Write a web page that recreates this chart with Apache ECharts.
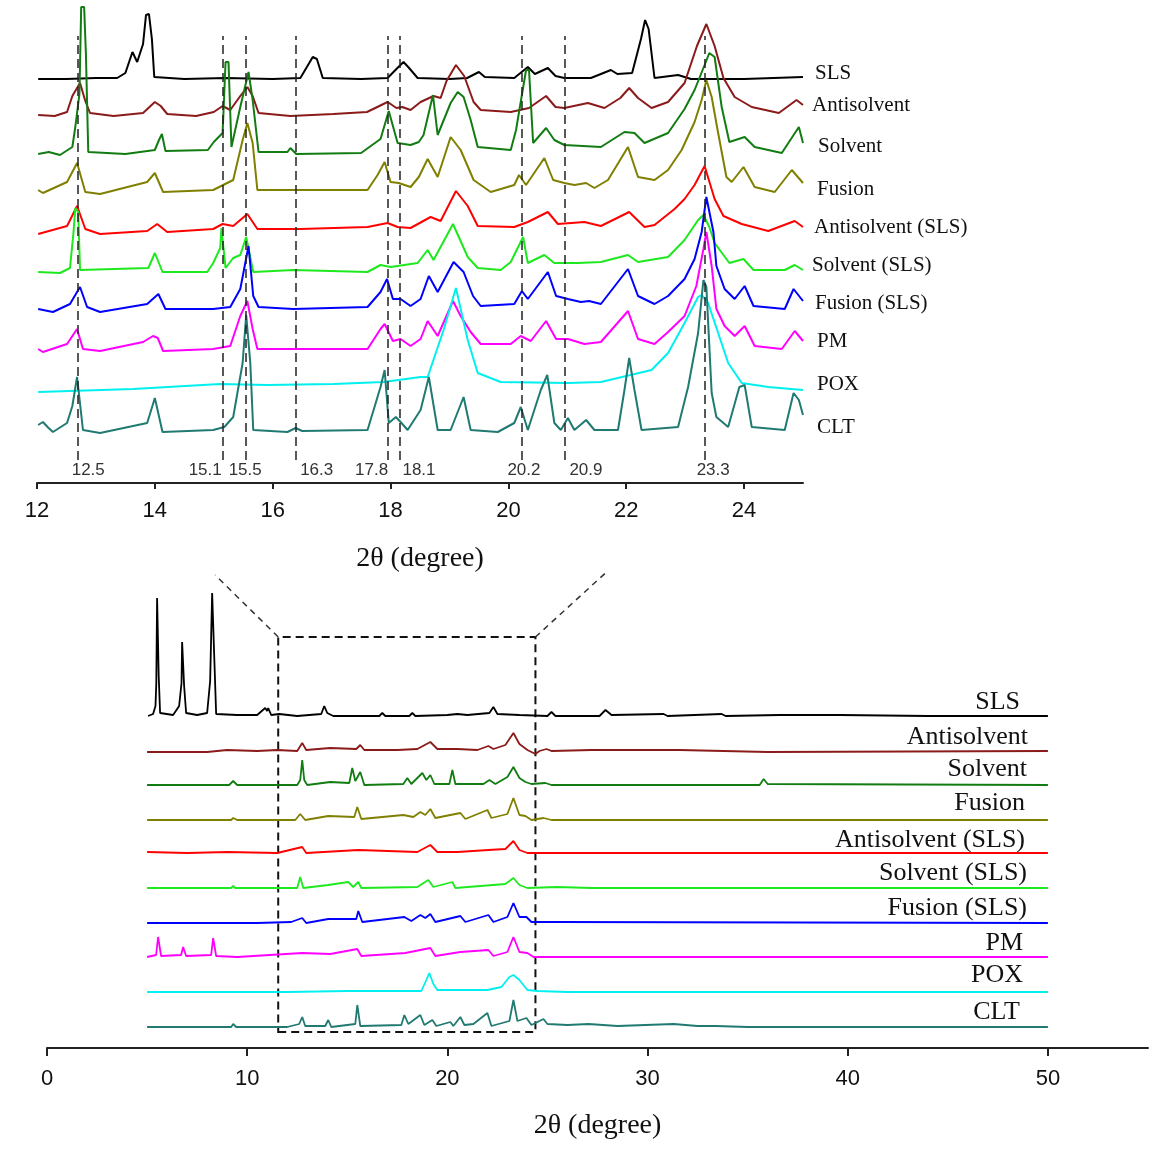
<!DOCTYPE html>
<html>
<head>
<meta charset="utf-8">
<title>XRD patterns</title>
<script src="https://cdn.jsdelivr.net/npm/echarts@6/dist/echarts.min.js"></script>
<style>
html, body { margin: 0; padding: 0; background: #fff; }
#chart { width: 1175px; height: 1160px; }
</style>
</head>
<body>
<div id="chart"></div>
<script>
// sample order, top to bottom
var sampleNames = ['SLS', 'Antisolvent', 'Solvent', 'Fusion', 'Antisolvent (SLS)',
    'Solvent (SLS)', 'Fusion (SLS)', 'PM', 'POX', 'CLT'];

// characteristic peaks marked in the zoomed panel
var peakPositions = [12.7, 15.16, 15.55, 16.39, 17.95, 18.16, 20.23, 20.96, 23.34];
var peakLabels = ['12.5', '15.1', '15.5', '16.3', '17.8', '18.1', '20.2', '20.9', '23.3'];

var zoomTicks = [12, 14, 16, 18, 20, 22, 24];
var fullTicks = [0, 10, 20, 30, 40, 50];
var zoomWindow = [11.55, 24.4];

// ---- zoomed panel, 2theta 12-25, [2theta, intensity] ----
var zoomSLS = [[12.02,0],[12.5,0],[13.0,1],[13.36,1],[13.5,6],[13.62,27],[13.7,17],[13.8,35],[13.85,64],[13.9,65],[13.95,40],[13.99,2],[14.5,0],[15.2,1],[16.0,0],[16.47,1],[16.6,14],[16.68,22],[16.75,20],[16.85,1],[17.5,0],[17.95,1],[18.1,10],[18.22,17],[18.3,12],[18.46,1],[19.0,0],[19.3,1],[19.5,7],[19.6,2],[20.1,1],[20.33,12],[20.45,5],[20.67,11],[20.8,3],[20.95,1],[21.4,1],[21.74,9],[21.85,5],[22.1,6],[22.25,40],[22.32,59],[22.38,50],[22.48,1],[22.88,4],[23.1,0],[24.0,0],[24.5,1],[25.0,2]];
var zoomAntisolvent = [[12.02,1],[12.3,0],[12.51,4],[12.6,20],[12.73,33],[12.82,15],[12.9,3],[13.3,0],[13.8,3],[14.0,14],[14.1,10],[14.21,2],[14.7,0],[15.0,4],[15.15,10],[15.28,6],[15.45,20],[15.57,29],[15.66,20],[15.76,3],[16.3,0],[17.03,2],[17.6,4],[17.95,14],[18.1,8],[18.2,9],[18.34,6],[18.51,14],[18.73,20],[18.85,18],[18.95,35],[19.11,51],[19.25,40],[19.41,14],[19.53,6],[20.04,4],[20.35,8],[20.64,20],[20.8,9],[20.95,8],[21.35,13],[21.63,8],[21.9,18],[22.05,28],[22.2,18],[22.43,8],[22.71,14],[22.99,33],[23.2,70],[23.36,92],[23.5,70],[23.65,38],[23.84,19],[24.13,9],[24.59,3],[24.89,16],[25.0,11]];
var zoomSolvent = [[12.02,0],[12.2,2],[12.39,-1],[12.6,7],[12.65,27],[12.72,60],[12.75,147],[12.8,147],[12.83,100],[12.87,2],[13.5,0],[14.0,4],[14.07,14],[14.12,20],[14.18,3],[14.9,4],[15.0,12],[15.15,21],[15.2,92],[15.25,92],[15.3,7],[15.45,47],[15.59,82],[15.66,54],[15.76,2],[16.25,2],[16.3,6],[16.4,0],[17.5,1],[17.83,15],[17.97,43],[18.12,11],[18.34,9],[18.48,12],[18.56,19],[18.72,59],[18.8,19],[19.02,51],[19.14,62],[19.24,57],[19.36,34],[19.48,7],[20.04,4],[20.13,24],[20.3,84],[20.35,84],[20.42,11],[20.64,26],[20.78,14],[20.95,9],[21.57,7],[21.97,22],[22.14,21],[22.31,11],[22.71,21],[22.99,45],[23.16,64],[23.33,89],[23.41,101],[23.5,97],[23.62,47],[23.75,12],[24.01,17],[24.18,7],[24.64,1],[24.93,27],[25.0,11]];
var zoomFusion = [[12.02,2],[12.1,-1],[12.51,10],[12.68,29],[12.82,0],[13.07,-2],[13.87,10],[14.0,19],[14.14,0],[14.99,2],[15.33,12],[15.49,52],[15.57,69],[15.66,49],[15.74,2],[16.35,2],[17.61,2],[17.78,17],[17.9,30],[18.0,10],[18.14,9],[18.34,5],[18.48,15],[18.63,33],[18.8,15],[19.02,55],[19.19,42],[19.41,12],[19.7,0],[20.1,7],[20.18,17],[20.3,7],[20.61,34],[20.76,12],[20.95,9],[21.12,7],[21.32,9],[21.46,4],[21.69,12],[22.03,45],[22.2,15],[22.48,12],[22.71,22],[22.94,42],[23.16,70],[23.28,92],[23.36,112],[23.45,95],[23.56,59],[23.7,15],[23.79,10],[23.99,25],[24.18,5],[24.52,0],[24.81,22],[25.0,9]];
var zoomAntisolventSLS = [[12.02,-1],[12.51,7],[12.68,27],[12.82,4],[13.07,-1],[13.87,2],[14.04,9],[14.21,1],[14.99,4],[15.15,9],[15.33,7],[15.57,19],[15.74,4],[16.47,4],[17.61,6],[17.95,10],[18.12,6],[18.34,5],[18.68,16],[18.85,12],[19.11,42],[19.31,27],[19.48,7],[20.1,6],[20.33,11],[20.67,21],[20.84,9],[21.29,11],[21.57,7],[22.05,21],[22.31,6],[22.48,8],[22.82,24],[22.99,34],[23.16,48],[23.33,67],[23.5,34],[23.65,17],[23.96,9],[24.41,2],[24.86,12],[25.0,6]];
var zoomSolventSLS = [[12.02,0],[12.39,-1],[12.56,4],[12.62,40],[12.65,64],[12.7,60],[12.73,2],[13.89,4],[14.0,19],[14.13,0],[14.89,0],[14.99,9],[15.11,24],[15.13,44],[15.2,4],[15.33,14],[15.45,17],[15.55,35],[15.67,0],[16.35,2],[17.61,0],[17.83,7],[18.0,5],[18.46,9],[18.63,22],[18.73,12],[19.06,48],[19.31,15],[19.48,4],[19.87,2],[20.04,10],[20.25,35],[20.33,9],[20.61,17],[20.78,9],[21.18,9],[21.57,10],[22.03,17],[22.2,10],[22.71,15],[22.99,32],[23.22,52],[23.31,57],[23.41,45],[23.5,29],[23.75,9],[23.99,13],[24.16,2],[24.69,2],[24.86,7],[25.0,2]];
var zoomFusionSLS = [[12.02,1],[12.27,-2],[12.56,6],[12.73,23],[12.85,3],[13.07,-2],[13.87,6],[14.06,16],[14.18,1],[14.99,1],[15.28,3],[15.45,21],[15.59,64],[15.67,14],[15.76,3],[16.35,1],[17.61,3],[17.83,18],[17.94,31],[18.04,11],[18.17,11],[18.34,4],[18.51,11],[18.65,34],[18.8,18],[19.07,48],[19.24,38],[19.4,14],[19.53,4],[20.1,6],[20.23,19],[20.33,11],[20.67,38],[20.81,14],[21.01,11],[21.23,8],[21.37,9],[21.57,6],[22.03,41],[22.2,14],[22.48,6],[22.71,14],[22.99,31],[23.16,51],[23.28,78],[23.36,113],[23.48,78],[23.53,44],[23.67,21],[23.84,11],[24.01,24],[24.16,4],[24.69,1],[24.84,21],[25.0,9]];
var zoomPM = [[12.02,1],[12.1,-2],[12.51,6],[12.68,21],[12.78,1],[13.07,-1],[13.8,8],[13.97,14],[14.05,12],[14.14,-1],[14.99,1],[15.28,4],[15.45,34],[15.57,49],[15.66,21],[15.74,1],[16.35,1],[17.61,1],[17.83,21],[17.9,26],[18.04,9],[18.17,11],[18.34,4],[18.51,11],[18.63,29],[18.8,14],[19.06,49],[19.19,34],[19.36,18],[19.53,6],[20.04,6],[20.21,14],[20.38,9],[20.64,29],[20.81,11],[21.01,11],[21.29,6],[21.57,8],[22.03,39],[22.2,11],[22.48,6],[22.71,18],[22.99,34],[23.19,64],[23.31,101],[23.36,118],[23.45,84],[23.53,41],[23.67,24],[23.84,14],[24.01,24],[24.18,4],[24.64,1],[24.86,19],[25.0,9]];
var zoomPOX = [[12.02,0],[13.63,3],[15.11,8],[15.9,7],[17.03,8],[17.88,10],[18.51,15],[18.63,15],[18.9,62],[19.11,104],[19.31,52],[19.48,19],[19.87,10],[21.01,9],[21.57,10],[22.43,22],[22.71,39],[22.99,69],[23.22,95],[23.28,97],[23.39,89],[23.56,59],[23.73,29],[23.96,9],[24.41,5],[25.0,2]];
var zoomCLT = [[12.02,6],[12.1,9],[12.18,4],[12.27,-1],[12.51,8],[12.6,25],[12.68,54],[12.78,1],[13.07,-2],[13.87,8],[14.0,33],[14.13,-1],[14.99,1],[15.18,4],[15.33,14],[15.49,68],[15.55,116],[15.62,68],[15.67,1],[16.25,-1],[16.39,3],[16.5,0],[17.61,1],[17.83,44],[17.9,61],[17.97,8],[18.09,14],[18.17,9],[18.29,1],[18.51,21],[18.65,54],[18.8,1],[19.02,1],[19.24,34],[19.36,1],[19.82,-1],[20.1,8],[20.21,24],[20.33,1],[20.55,41],[20.66,56],[20.78,8],[20.89,1],[21.01,13],[21.12,1],[21.32,11],[21.46,1],[21.86,1],[21.97,41],[22.05,73],[22.14,41],[22.26,1],[22.88,4],[23.05,44],[23.22,98],[23.31,151],[23.36,144],[23.45,38],[23.53,14],[23.73,4],[23.92,44],[24.01,46],[24.13,4],[24.69,1],[24.84,38],[24.93,31],[25.0,16]];

// ---- full scan, 2theta 5-50 ----
var fullSLS = [[5.05,0],[5.3,2],[5.42,10],[5.46,33],[5.5,118],[5.55,118],[5.58,40],[5.65,3],[6.3,1],[6.6,10],[6.72,33],[6.75,74],[6.82,74],[6.85,30],[6.95,3],[7.5,1],[8.0,3],[8.15,35],[8.25,123],[8.32,123],[8.37,50],[8.45,2],[9.5,1],[10.5,1],[10.9,8],[11.0,5],[11.05,8],[11.2,1],[11.6,2],[12.5,0],[13.7,2],[13.85,10],[14.0,3],[14.3,0],[16.6,0],[16.75,3],[16.9,0],[18.1,0],[18.25,3],[18.4,0],[20.0,1],[20.5,2],[21.0,1],[22.1,3],[22.3,9],[22.5,2],[23.6,1],[25.0,0],[25.2,4],[25.4,0],[27.6,0],[27.9,6],[28.2,1],[30.8,2],[31.0,0],[33.7,2],[33.9,0],[36.6,1],[39.6,1],[44,0],[50,0]];
var fullAntisolvent = [[5.0,-1],[8.0,-1],[9.0,1],[10.5,0],[11.5,1],[12.5,0],[12.75,8],[12.95,1],[14.15,3],[15.45,2],[15.65,6],[15.85,1],[17.5,1],[18.5,2],[19.15,9],[19.5,2],[20.5,2],[21.5,1],[22.05,5],[22.3,2],[22.9,6],[23.3,18],[23.6,7],[24.0,1],[24.4,-3],[24.6,0],[24.95,2],[25.2,0],[27.2,1],[31.6,1],[36,-1],[50,0]];
var fullSolvent = [[5.0,0],[9.1,0],[9.3,4],[9.5,0],[12.5,0],[12.65,5],[12.75,25],[12.85,5],[13.0,0],[14.15,3],[15.1,2],[15.25,17],[15.4,4],[15.65,13],[15.85,0],[17.8,1],[18.0,7],[18.2,1],[18.75,12],[18.95,5],[19.15,10],[19.35,1],[20.1,1],[20.25,15],[20.4,1],[21.8,1],[22.1,5],[22.4,1],[23.0,8],[23.3,18],[23.6,7],[23.9,3],[24.2,1],[24.9,2],[25.2,0],[35.6,0],[35.8,6],[36.0,1],[50,0]];
var fullFusion = [[5.0,0],[9.2,0],[9.3,2],[9.5,0],[12.4,0],[12.65,6],[12.9,0],[14.05,4],[15.35,3],[15.5,13],[15.7,1],[17.8,5],[18.3,3],[18.65,8],[18.9,5],[19.15,11],[19.4,2],[20.65,7],[20.9,1],[22.0,10],[22.2,2],[23.0,6],[23.3,22],[23.6,5],[23.9,4],[24.2,0],[24.8,2],[25.2,0],[50,0]];
var fullAntisolventSLS = [[5.0,1],[7.0,0],[9.0,1],[11.5,0],[12.75,6],[12.95,0],[15.55,3],[18.5,1],[19.15,8],[19.5,1],[20.5,1],[22.05,3],[22.9,4],[23.3,12],[23.6,3],[24.0,0],[50,0]];
var fullSolventSLS = [[5.0,0],[9.2,0],[9.3,2],[9.4,0],[12.5,0],[12.65,11],[12.8,0],[14.05,3],[15.05,6],[15.3,1],[15.55,6],[15.7,0],[18.5,1],[19.05,8],[19.3,1],[20.25,6],[20.4,0],[22.9,4],[23.3,10],[23.6,3],[24.0,0],[25.5,1],[27.2,0],[50,0]];
var fullFusionSLS = [[5.0,0],[10.5,0],[12.2,1],[12.75,5],[12.95,0],[14.05,4],[15.45,4],[15.55,12],[15.75,1],[17.85,6],[18.2,2],[18.65,8],[18.9,5],[19.15,9],[19.4,1],[20.65,7],[20.9,1],[22.05,8],[22.3,1],[23.0,6],[23.3,20],[23.6,6],[23.95,6],[24.2,1],[25.5,1],[50,0]];
var fullPM = [[5.0,0],[5.45,2],[5.55,20],[5.7,1],[6.7,2],[6.8,10],[6.95,1],[8.2,2],[8.3,19],[8.45,1],[9.5,0],[12.75,4],[14.15,3],[15.5,8],[15.7,1],[17.9,4],[18.65,7],[19.15,9],[19.4,1],[20.65,5],[22.05,7],[22.3,1],[23.0,5],[23.3,20],[23.6,5],[24.0,4],[24.3,0],[50,0]];
var fullPOX = [[5.0,0],[12.0,0],[15.0,1],[18.7,1],[18.95,12],[19.1,19],[19.3,8],[19.5,2],[22.0,2],[22.7,5],[23.1,15],[23.3,17],[23.6,12],[24.0,2],[24.5,1],[26,0],[50,0]];
var fullCLT = [[5.0,0],[9.2,0],[9.3,3],[9.45,0],[12.0,0],[12.6,3],[12.75,10],[12.9,1],[13.9,1],[14.05,7],[14.2,0],[15.4,3],[15.5,22],[15.65,1],[17.7,2],[17.85,12],[18.05,3],[18.65,12],[18.85,2],[19.25,7],[19.45,1],[20.15,5],[20.3,1],[20.65,10],[20.85,2],[21.3,3],[22.0,14],[22.2,1],[23.1,6],[23.3,27],[23.5,6],[23.95,9],[24.2,2],[24.8,8],[25.0,3],[26.0,2],[27.05,3],[28.5,1],[31.3,3],[32.5,1],[33.4,1],[35,0],[50,0]];

var zoomData = [zoomSLS, zoomAntisolvent, zoomSolvent, zoomFusion, zoomAntisolventSLS,
    zoomSolventSLS, zoomFusionSLS, zoomPM, zoomPOX, zoomCLT];
var fullData = [fullSLS, fullAntisolvent, fullSolvent, fullFusion, fullAntisolventSLS,
    fullSolventSLS, fullFusionSLS, fullPM, fullPOX, fullCLT];

// layout / style
var colors = ['#000000', '#8b1a1a', '#127c12', '#808000', '#ff0000',
    '#1ee81e', '#0000ff', '#ff00ff', '#00f0f0', '#207a72'];
var zoomOffsets = [404, 367, 329, 291, 250, 211, 173, 133, 91, 52];
var fullOffsets = [332, 297, 263, 228, 195, 160, 125, 91, 56, 21];
var peakLabelShift = [10, -18, -1, 21, -16, 19, 2, 21, 8];
var zoomLabelPos = [[815,73],[812,105],[818,146],[817,189],[814,227],[812,265],[815,303],[817,341],[817,384],[817,427]];
var fullLabelPos = [[1020,702],[1028,737],[1027,769],[1025,803],[1025,840],[1027,873],[1027,908],[1023,943],[1023,975],[1020,1012]];

var myChart = echarts.init(document.getElementById('chart'));

function shift(arr, off) {
    return arr.map(function (p) { return [p[0], p[1] + off]; });
}

var series = [];
zoomData.forEach(function (d, i) {
    series.push({
        name: sampleNames[i],
        type: 'line',
        xAxisIndex: 0,
        yAxisIndex: 0,
        data: shift(d, zoomOffsets[i]),
        symbol: 'none',
        lineStyle: { color: colors[i], width: 2 },
        itemStyle: { color: colors[i] }
    });
});
fullData.forEach(function (d, i) {
    series.push({
        name: sampleNames[i] + ' full',
        type: 'line',
        xAxisIndex: 1,
        yAxisIndex: 1,
        data: shift(d, fullOffsets[i]),
        symbol: 'none',
        lineStyle: { color: colors[i], width: 1.8 },
        itemStyle: { color: colors[i] }
    });
});

// dashed guides at the characteristic peaks
series[0].markLine = {
    silent: true,
    symbol: 'none',
    animation: false,
    lineStyle: { color: '#222', type: [9, 5], width: 1.5 },
    label: {
        show: true, position: 'start', distance: 2,
        color: '#333', fontSize: 17, fontFamily: 'Liberation Sans',
        formatter: '{b}'
    },
    data: peakPositions.map(function (x, i) {
        return [
            { name: peakLabels[i], coord: [x, 23], label: { offset: [peakLabelShift[i], 0] } },
            { coord: [x, 447] }
        ];
    })
};

// dashed box around the zoomed region on the full scan
series[10].markArea = {
    silent: true,
    itemStyle: { color: 'rgba(0,0,0,0)', borderColor: '#111', borderWidth: 2, borderType: [8, 5] },
    data: [[{ coord: [zoomWindow[0], 16] }, { coord: [zoomWindow[1], 411] }]]
};
series[10].markLine = {
    silent: true,
    symbol: 'none',
    animation: false,
    label: { show: false },
    lineStyle: { color: '#333', type: [6, 5], width: 1.5 },
    data: [
        [{ coord: [zoomWindow[0], 411] }, { coord: [8.4, 473] }],
        [{ coord: [zoomWindow[1], 411] }, { coord: [27.9, 475] }]
    ]
};

var graphics = [];
sampleNames.forEach(function (n, i) {
    graphics.push({
        type: 'text', x: zoomLabelPos[i][0], y: zoomLabelPos[i][1],
        style: { text: n, fill: '#111', font: '21px "Liberation Serif"', align: 'left', verticalAlign: 'middle' }
    });
    graphics.push({
        type: 'text', x: fullLabelPos[i][0], y: fullLabelPos[i][1],
        style: { text: n, fill: '#111', font: '26px "Liberation Serif"', align: 'right', verticalAlign: 'middle' }
    });
});

option = {
    backgroundColor: '#fff',
    animation: false,
    grid: [
        { left: 37, top: 0, width: 766, height: 483 },
        { left: 47, top: 560, width: 1101, height: 488 }
    ],
    xAxis: [{
        gridIndex: 0,
        type: 'value',
        min: 12,
        max: 25,
        interval: 2,
        name: '2\u03b8 (degree)',
        nameLocation: 'middle',
        nameGap: 62,
        nameTextStyle: { fontFamily: 'Liberation Serif', fontSize: 28, color: '#111' },
        axisLine: { lineStyle: { color: '#222', width: 2 } },
        axisTick: { show: true, length: 6, lineStyle: { color: '#222', width: 2 }, customValues: zoomTicks },
        axisLabel: { color: '#111', fontSize: 22, fontFamily: 'Liberation Sans', margin: 17, customValues: zoomTicks },
        splitLine: { show: false }
    }, {
        gridIndex: 1,
        type: 'value',
        min: 0,
        max: 55,
        interval: 10,
        name: '2\u03b8 (degree)',
        nameLocation: 'middle',
        nameGap: 64,
        nameTextStyle: { fontFamily: 'Liberation Serif', fontSize: 28, color: '#111' },
        axisLine: { lineStyle: { color: '#222', width: 2 } },
        axisTick: { show: true, length: 8, lineStyle: { color: '#222', width: 2 }, customValues: fullTicks },
        axisLabel: { color: '#111', fontSize: 22, fontFamily: 'Liberation Sans', margin: 20, customValues: fullTicks },
        splitLine: { show: false }
    }],
    yAxis: [{
        gridIndex: 0, type: 'value', min: 0, max: 483, show: false
    }, {
        gridIndex: 1, type: 'value', min: 0, max: 488, show: false
    }],
    graphic: graphics,
    series: series
};

myChart.setOption(option);
</script>
</body>
</html>
